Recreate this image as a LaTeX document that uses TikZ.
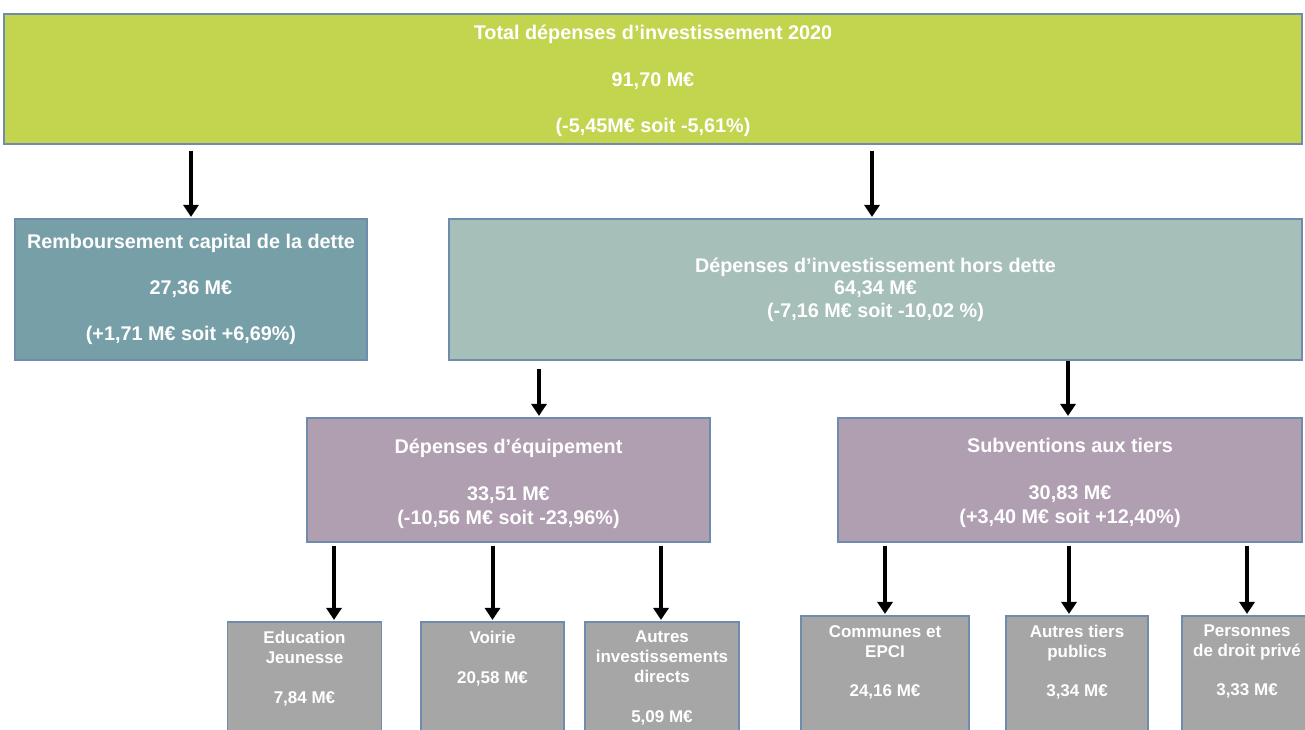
\documentclass[tikz,border=0pt]{standalone}
\usepackage{fontspec}
\setmainfont{Liberation Sans}
\usetikzlibrary{arrows.meta}
\definecolor{cgreen}{HTML}{C3D54F}
\definecolor{cteal}{HTML}{779FA8}
\definecolor{csage}{HTML}{A6BFB9}
\definecolor{cmauve}{HTML}{B09EB1}
\definecolor{cgrey}{HTML}{A6A6A6}
\definecolor{cborder}{HTML}{6F8CAE}
\tikzset{
  box/.style={draw=cborder, line width=1.1pt, inner sep=0pt, text=white, align=center,
    font=\bfseries\fontsize{19.8}{23}\selectfont},
  smallbox/.style={draw=cborder, line width=1.1pt, fill=cgrey, inner sep=0pt},
  btxt/.style={inner sep=0pt, text=white, align=center, anchor=north,
    font=\bfseries\fontsize{17}{20}\selectfont},
  arr/.style={draw=black, line width=4pt, -{Triangle[width=15pt,length=12pt]}, shorten >=1.5pt}
}
\begin{document}
\begin{tikzpicture}[x=1pt,y=-1pt]
\useasboundingbox (0,0) rectangle (1305,729);
\clip (0,0) rectangle (1305,729);
\fill[white] (0,0) rectangle (1305,729);

\node[box, fill=cgreen, minimum width=1298pt, minimum height=130pt] (top) at (653,79)
  {\rule{0pt}{18.5pt}Total dépenses d’investissement 2020\\[23.5pt]91,70 M€\\[23.5pt](-5,45M€ soit -5,61\%)};
\node[box, fill=cteal, minimum width=352pt, minimum height=141pt] (rem) at (191,289.5)
  {Remboursement capital de la dette\\[23pt]27,36 M€\\[23pt](+1,71 M€ soit +6,69\%)};
\node[box, fill=csage, minimum width=853pt, minimum height=141pt,
  font=\bfseries\fontsize{19.8}{22.5}\selectfont] (hors) at (875.5,289.5)
  {Dépenses d’investissement hors dette\\64,34 M€\\(-7,16 M€ soit -10,02 \%)};
\node[box, fill=cmauve, minimum width=403pt, minimum height=124pt] (equip) at (508.5,480)
  {\rule{0pt}{23pt}Dépenses d’équipement\\[24pt]33,51 M€\\[1pt](-10,56 M€ soit -23,96\%)};
\node[box, fill=cmauve, minimum width=464pt, minimum height=124pt] (subv) at (1070,480)
  {\rule{0pt}{20pt}Subventions aux tiers\\[24pt]30,83 M€\\[1pt](+3,40 M€ soit +12,40\%)};

\node[smallbox, minimum width=154pt, minimum height=138pt] (edu) at (304.5,691) {};
\node[smallbox, minimum width=143pt, minimum height=138pt] (voirie) at (492.5,691) {};
\node[smallbox, minimum width=154pt, minimum height=138pt] (autres) at (662,691) {};
\node[smallbox, minimum width=168pt, minimum height=144pt] (communes) at (885,688) {};
\node[smallbox, minimum width=142pt, minimum height=144pt] (tiers) at (1077,688) {};
\node[smallbox, minimum width=130pt, minimum height=144pt] (pers) at (1247,688) {};

\node[btxt] (edu-t) at ([yshift=-9.5pt]edu.north) {Education\\Jeunesse\\[20pt]7,84 M€};
\node[btxt] (voirie-t) at ([yshift=-9.5pt]voirie.north) {Voirie\\[20pt]20,58 M€};
\node[btxt] (autres-t) at ([yshift=-9.5pt]autres.north) {Autres\\investissements\\directs\\[20pt]5,09 M€};
\node[btxt] (communes-t) at ([yshift=-9.5pt]communes.north) {Communes et\\EPCI\\[19pt]24,16 M€};
\node[btxt] (tiers-t) at ([yshift=-9.5pt]tiers.north) {Autres tiers\\publics\\[19pt]3,34 M€};
\node[btxt] (pers-t) at ([yshift=-9.5pt]pers.north) {Personnes\\de droit privé\\[19pt]3,33 M€};

\draw[arr, shorten <=6pt] (rem.north |- top.south) -- (rem.north);
\draw[arr, shorten <=6pt] ([xshift=-3.5pt]hors.north |- top.south) -- ([xshift=-3.5pt]hors.north);
\draw[arr, shorten <=8pt] ([xshift=30.5pt]equip.north |- hors.south) -- ([xshift=30.5pt]equip.north);
\draw[arr] ([xshift=-2pt]subv.north |- hors.south) -- ([xshift=-2pt]subv.north);
\draw[arr, shorten <=3pt] ([xshift=29.5pt]edu.north |- equip.south) -- ([xshift=29.5pt]edu.north);
\draw[arr, shorten <=3pt] (voirie.north |- equip.south) -- (voirie.north);
\draw[arr, shorten <=3pt] ([xshift=-1pt]autres.north |- equip.south) -- ([xshift=-1pt]autres.north);
\draw[arr, shorten <=3pt] (communes.north |- subv.south) -- (communes.north);
\draw[arr, shorten <=3pt] ([xshift=-8pt]tiers.north |- subv.south) -- ([xshift=-8pt]tiers.north);
\draw[arr, shorten <=3pt] (pers.north |- subv.south) -- (pers.north);
\end{tikzpicture}
\end{document}
